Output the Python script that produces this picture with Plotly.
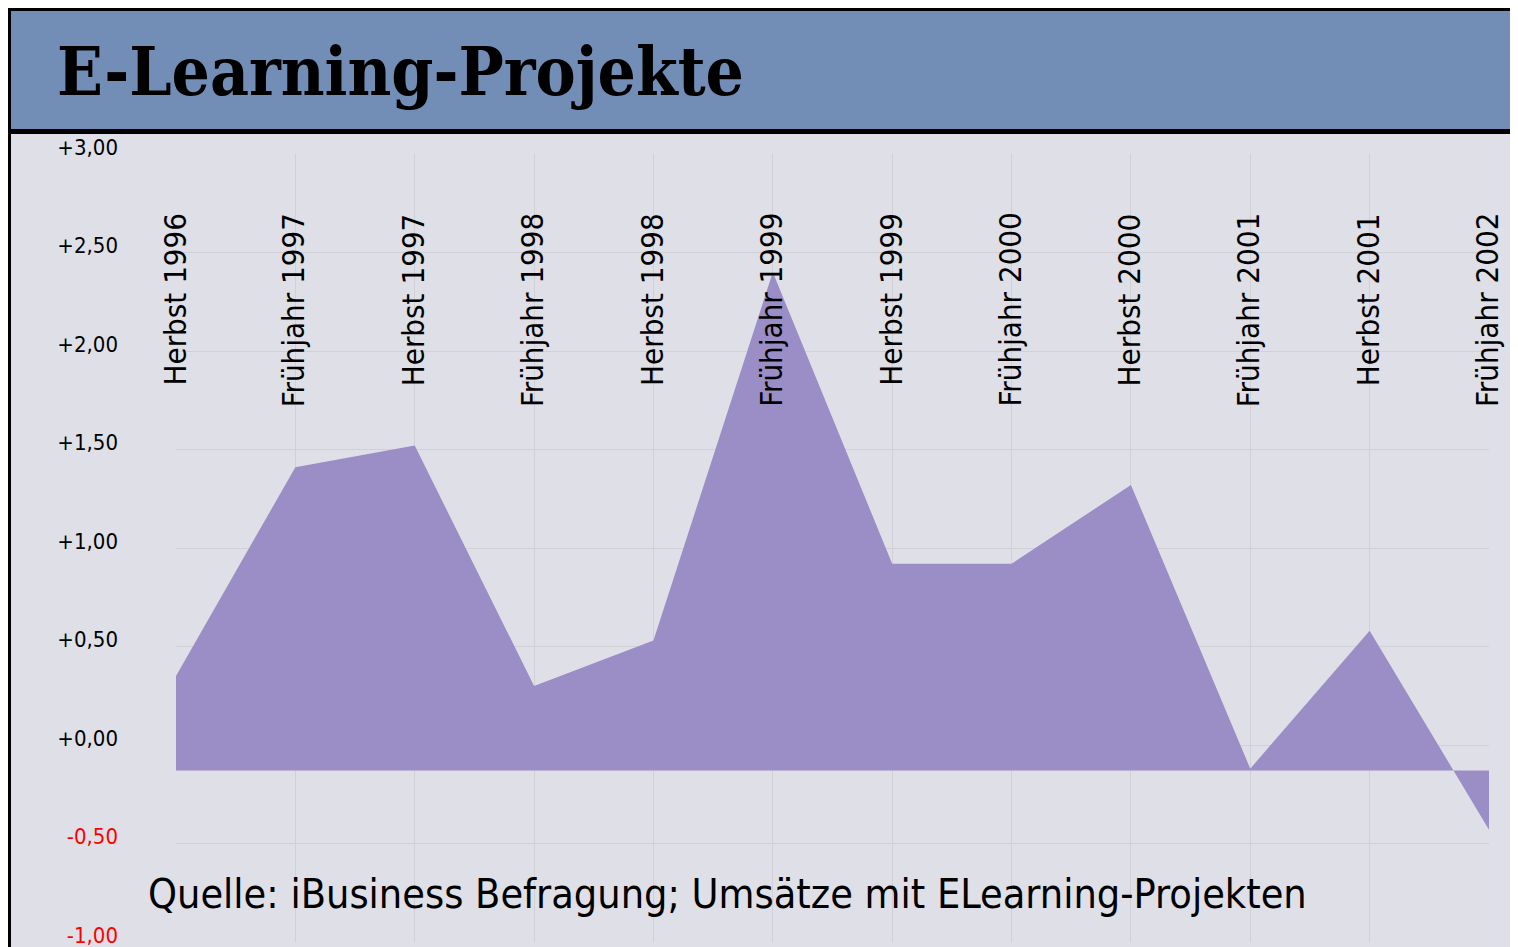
import plotly.graph_objects as go

# ---- data ----
categories = ["Herbst 1996", "Frühjahr 1997", "Herbst 1997", "Frühjahr 1998", "Herbst 1998",
              "Frühjahr 1999", "Herbst 1999", "Frühjahr 2000", "Herbst 2000", "Frühjahr 2001",
              "Herbst 2001", "Frühjahr 2002"]
values = [0.35, 1.41, 1.52, 0.30, 0.53, 2.40, 0.92, 0.92, 1.32, -0.12, 0.58, -0.43]
baseline_value = -0.13
y_tickvals = [3.0, 2.5, 2.0, 1.5, 1.0, 0.5, 0.0, -0.5, -1.0]
y_ticklabels = ["+3,00", "+2,50", "+2,00", "+1,50", "+1,00", "+0,50", "+0,00", "-0,50", "-1,00"]
title_text = "E-Learning-Projekte"
source_text = "Quelle: iBusiness Befragung; Umsätze mit ELearning-Projekten"

# ---- layout geometry (page pixels; the page body adds an 8px offset) ----
OFF = 8
W, H = 1518 - OFF, 947 - OFF
L, R, T, B = 176, 1489, 154, 942   # plot area in page pixels
PW, PH = R - L, B - T


def px(x):
    return (x - L) / PW


def py(y):
    return (B - y) / PH


x_idx = list(range(len(categories)))

BG = "#dfdfe7"
AREA = "#9b8dc6"
BAR = "#728db6"
GRID = "#d0d0d5"

fig = go.Figure()
fig.add_trace(go.Scatter(x=x_idx, y=[baseline_value] * len(x_idx), mode="lines",
                         line=dict(width=0, color=AREA), hoverinfo="skip", showlegend=False))
fig.add_trace(go.Scatter(x=x_idx, y=values, mode="lines", fill="tonexty",
                         fillcolor=AREA, line=dict(width=0, color=AREA), showlegend=False))

ticktext = [t if v >= 0 else f'<span style="color:#ff0000">{t}</span>'
            for t, v in zip(y_ticklabels, y_tickvals)]

fig.update_layout(
    width=W, height=H,
    margin=dict(l=L - OFF, r=(W + OFF) - R, t=T - OFF, b=(H + OFF) - B, pad=0,
                autoexpand=False),
    paper_bgcolor=BG, plot_bgcolor=BG,
    showlegend=False,
    xaxis=dict(range=[0, len(categories) - 1], tickvals=x_idx, showticklabels=False,
               showgrid=True, gridcolor=GRID, gridwidth=1, zeroline=False,
               showline=False, ticks="", automargin=False),
    yaxis=dict(range=[-1, 3], tickvals=y_tickvals, ticktext=ticktext,
               tickfont=dict(family="DejaVu Sans Condensed", size=22, color="black"),
               ticklabelstandoff=57, ticklabelshift=-7, ticklabeloverflow="allow",
               showgrid=True, gridcolor=GRID, gridwidth=1, zeroline=False,
               showline=False, ticks="", automargin=False),
)

shapes = []
def rect(x0, y0, x1, y1, color):
    shapes.append(dict(type="rect", xref="paper", yref="paper",
                       x0=px(x0), x1=px(x1), y0=py(y1), y1=py(y0),
                       fillcolor=color, line=dict(width=0), layer="below"))

rect(7, 6, W + OFF + 10, 11, "#000000")
rect(11, 11, W + OFF + 10, 129, BAR)
rect(7, 129, W + OFF + 10, 134, "#000000")
rect(7, 6, 11, H + OFF + 10, "#000000")
fig.update_layout(shapes=shapes)

# category labels (rotated), placed at the category positions of the x axis
for i, c in zip(x_idx, categories):
    fig.add_annotation(text=c, x=i, xref="x", y=py(211), yref="paper",
                       xanchor="center", yanchor="top", textangle=-90, showarrow=False,
                       xshift=-2,
                       font=dict(family="DejaVu Sans Condensed", size=31, color="black"))

fig.add_annotation(text=f"<b>{title_text}</b>", xref="paper", yref="paper",
                   x=px(55), y=py(71), xanchor="left", yanchor="middle", showarrow=False,
                   font=dict(family="DejaVu Serif Condensed", size=67, color="#000000"))
fig.add_annotation(text=source_text, xref="paper", yref="paper",
                   x=px(146), y=py(894), xanchor="left", yanchor="middle", showarrow=False,
                   font=dict(family="DejaVu Sans Condensed", size=41, color="#000000"))

fig.write_html("out.html")
